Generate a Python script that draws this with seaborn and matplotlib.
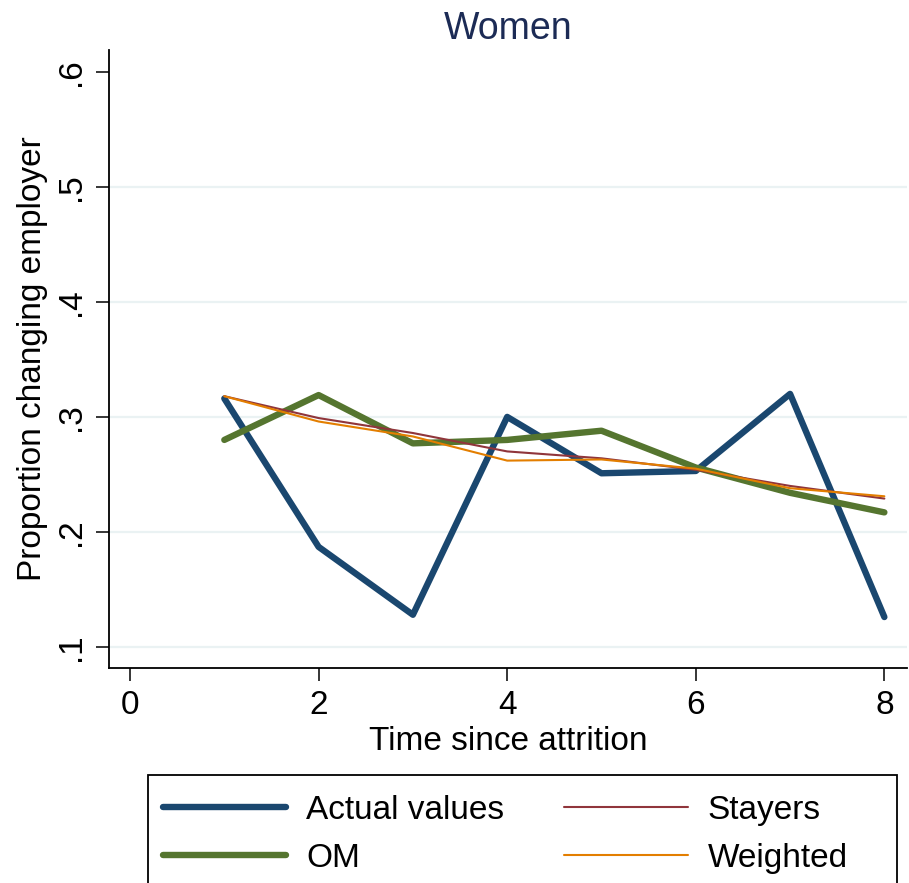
import numpy as np
import pandas as pd
import matplotlib
matplotlib.use("Agg")
import matplotlib.pyplot as plt
from matplotlib.patches import Rectangle
import seaborn as sns

# Data
time = [1, 2, 3, 4, 5, 6, 7, 8]
actual_values = [0.316, 0.187, 0.128, 0.300, 0.251, 0.253, 0.320, 0.126]
om = [0.280, 0.319, 0.277, 0.280, 0.288, 0.256, 0.234, 0.217]
stayers = [0.318, 0.299, 0.286, 0.270, 0.264, 0.254, 0.240, 0.229]
weighted = [0.318, 0.296, 0.283, 0.262, 0.263, 0.255, 0.238, 0.231]

y_ticks = [0.1, 0.2, 0.3, 0.4, 0.5, 0.6]
y_tick_labels = [".1", ".2", ".3", ".4", ".5", ".6"]
x_ticks = [0, 2, 4, 6, 8]

sns.set_theme(style="white")
plt.rcParams['font.family'] = ['Liberation Sans', 'DejaVu Sans']

W, H = 909, 883
fig = plt.figure(figsize=(W / 100, H / 100), dpi=100)
ax = fig.add_axes([109 / W, 1 - 668 / H, (907 - 109) / W, (668 - 50) / H])

series = [
    ("Actual values", actual_values, "#1a476f", 4.6),
    ("OM", om, "#55752f", 4.6),
    ("Stayers", stayers, "#90353b", 1.5),
    ("Weighted", weighted, "#e37e00", 1.5),
]
for label, vals, col, lw in series:
    sns.lineplot(x=time, y=vals, color=col, linewidth=lw, label=label, ax=ax,
                 solid_capstyle="round", solid_joinstyle="round")

ax.set_xlim(-0.223, 8.24)
ax.set_ylim(0.0817, 0.619)
ax.set_xticks(x_ticks)
ax.set_yticks(y_ticks)
ax.set_yticklabels(y_tick_labels)

# light bluish-gray grid, no line at the top tick
ax.grid(axis="y", color="#eaf2f3", linewidth=1.6)
ax.set_axisbelow(True)
ax.yaxis.get_gridlines()[-1].set_visible(False)

for side in ["top", "right"]:
    ax.spines[side].set_visible(False)
for side in ["left", "bottom"]:
    ax.spines[side].set_color("black")
    ax.spines[side].set_linewidth(1.3)

ax.tick_params(axis="both", which="major", direction="out", length=9.5, width=1.1,
               color="black", labelsize=24, labelcolor="black", pad=6,
               left=True, bottom=True)
for lab in ax.get_yticklabels():
    lab.set_rotation(90)
    lab.set_va("center")

ax.set_xlabel("Time since attrition", fontsize=24, color="black", labelpad=4)
ax.set_ylabel("Proportion changing employer", fontsize=24, color="black", labelpad=6)
ax.set_title("Women", fontsize=27, color="#1c2b55", pad=8)

# legend (Stata-like box, running off the bottom edge)
ax.get_legend().remove()
handles, labels = ax.get_legend_handles_labels()
leg = fig.legend(handles, labels, ncol=2, loc="upper left",
                 bbox_to_anchor=(143 / W, 1 - 775 / H),
                 fontsize=24, frameon=False, handlelength=3.7, handletextpad=0.6,
                 borderpad=0.6, labelspacing=0.5, columnspacing=1.8, borderaxespad=0,
                 labelcolor="black")
fig.patches.append(Rectangle((148 / W, -0.05), (897 - 148) / W, (1 - 775 / H) + 0.05,
                             transform=fig.transFigure, fill=False,
                             edgecolor="black", linewidth=1.3))

fig.savefig("out.png", dpi=100, facecolor="white")
